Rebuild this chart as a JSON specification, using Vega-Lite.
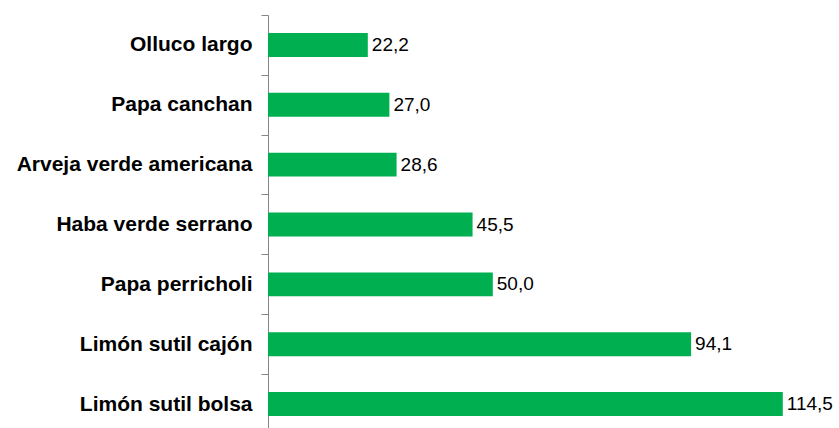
{
  "$schema": "https://vega.github.io/schema/vega-lite/v6.json",
  "autosize": "none",
  "padding": {"left": 268, "top": 15, "right": 0, "bottom": 0},
  "width": 571,
  "height": 419,
  "background": "white",
  "config": {"view": {"stroke": null}},
  "data": {
    "values": [
      {"producto": "Olluco largo", "valor": 22.2, "etiqueta": "22,2"},
      {"producto": "Papa canchan", "valor": 27.0, "etiqueta": "27,0"},
      {"producto": "Arveja verde americana", "valor": 28.6, "etiqueta": "28,6"},
      {"producto": "Haba verde serrano", "valor": 45.5, "etiqueta": "45,5"},
      {"producto": "Papa perricholi", "valor": 50.0, "etiqueta": "50,0"},
      {"producto": "Limón sutil cajón", "valor": 94.1, "etiqueta": "94,1"},
      {"producto": "Limón sutil bolsa", "valor": 114.5, "etiqueta": "114,5"}
    ]
  },
  "encoding": {
    "y": {
      "field": "producto",
      "type": "nominal",
      "sort": null,
      "scale": {"paddingInner": 0.6, "paddingOuter": 0.3},
      "axis": {
        "title": null,
        "tickOffset": -30,
        "labelOffset": 30,
        "domainColor": "#868686",
        "tickColor": "#868686",
        "tickSize": 7,
        "labelPadding": 9,
        "labelFont": "Liberation Sans",
        "labelFontWeight": "bold",
        "labelFontSize": 21,
        "labelColor": "#000000",
        "labelLimit": 300
      }
    },
    "x": {
      "field": "valor",
      "type": "quantitative",
      "scale": {"domain": [0, 127], "nice": false},
      "axis": null
    }
  },
  "layer": [
    {"mark": {"type": "bar", "color": "#00B050"}},
    {
      "mark": {"type": "text", "align": "left", "baseline": "middle", "dx": 4, "font": "Liberation Sans", "fontSize": 19, "color": "#000000"},
      "encoding": {"text": {"field": "etiqueta"}}
    }
  ]
}
